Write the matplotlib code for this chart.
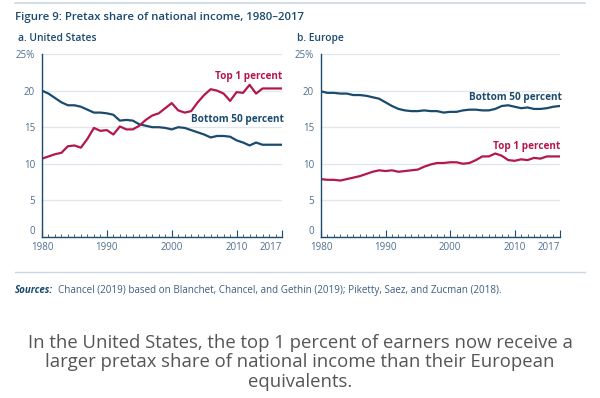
"""Pretax share of national income, US vs Europe, 1980-2017."""

import matplotlib.pyplot as plt
from matplotlib.lines import Line2D
from matplotlib.ticker import MultipleLocator

years = list(range(1980, 2018))

us_top1 = [10.7, 11.0, 11.3, 11.5, 12.4, 12.5, 12.2, 13.4, 14.9, 14.5,
           14.6, 14.0, 15.1, 14.7, 14.7, 15.2, 16.0, 16.6, 16.9, 17.6,
           18.3, 17.3, 17.0, 17.2, 18.4, 19.4, 20.2, 20.0, 19.6, 18.6,
           19.8, 19.7, 20.8, 19.6, 20.3, 20.3, 20.3, 20.3]
us_bottom50 = [20.0, 19.6, 19.0, 18.4, 18.0, 18.0, 17.8, 17.4, 17.0, 17.0,
               16.9, 16.7, 15.9, 16.0, 15.9, 15.4, 15.2, 15.0, 15.0, 14.9,
               14.7, 15.0, 14.9, 14.6, 14.3, 14.0, 13.6, 13.8, 13.8, 13.7,
               13.2, 12.9, 12.5, 12.9, 12.6, 12.6, 12.6, 12.6]
eu_top1 = [7.9, 7.8, 7.8, 7.7, 7.9, 8.1, 8.3, 8.6, 8.9, 9.1,
           9.0, 9.1, 8.9, 9.0, 9.1, 9.2, 9.6, 9.9, 10.1, 10.1,
           10.2, 10.2, 10.0, 10.1, 10.5, 11.0, 11.0, 11.4, 11.1, 10.5,
           10.4, 10.6, 10.5, 10.8, 10.7, 11.0, 11.0, 11.0]
eu_bottom50 = [19.9, 19.7, 19.7, 19.6, 19.6, 19.4, 19.4, 19.3, 19.1, 18.9,
               18.4, 17.9, 17.5, 17.3, 17.2, 17.2, 17.3, 17.2, 17.2, 17.0,
               17.1, 17.1, 17.3, 17.4, 17.4, 17.3, 17.3, 17.5, 17.9, 18.0,
               17.8, 17.6, 17.7, 17.5, 17.5, 17.6, 17.8, 17.9]

x_ticks = [1980, 1990, 2000, 2010, 2017]
y_ticks = [0, 5, 10, 15, 20, 25]
y_labels = ["0", "5", "10", "15", "20", "25%"]

NAVY = "#1a4a6e"
RED = "#b3174c"
TICK = "#4d6f8f"
GRID = "#dfe6ee"
FONT = "Open Sans"


def draw_panel(ax, top1, bottom50, top_pos, bot_pos):
    ax.plot(years, bottom50, color=NAVY, lw=1.6, solid_joinstyle="round")
    ax.plot(years, top1, color=RED, lw=1.6, solid_joinstyle="round")
    ax.set_xlim(1980, 2017)
    ax.set_ylim(0, 25)
    ax.set_yticks(y_ticks)
    ylabs = ax.set_yticklabels(y_labels, fontname=FONT, fontsize=7, color=TICK)
    ylabs[0].set_verticalalignment("bottom")
    ax.set_xticks(x_ticks)
    labels = ax.set_xticklabels([str(t) for t in x_ticks], fontname=FONT,
                                fontsize=7, color=TICK)
    labels[-1].set_horizontalalignment("right")
    ax.tick_params(axis="x", direction="in", length=5, width=0.8,
                   color=NAVY, pad=4)
    ax.tick_params(axis="y", length=0, pad=5)
    ax.xaxis.set_minor_locator(MultipleLocator(1))
    ax.tick_params(axis="x", which="minor", direction="in", length=2,
                   width=0.6, color=NAVY)
    ax.grid(axis="y", color=GRID, lw=0.9)
    ax.set_axisbelow(True)
    for side in ("top", "right"):
        ax.spines[side].set_visible(False)
    for side in ("left", "bottom"):
        ax.spines[side].set_color(NAVY)
        ax.spines[side].set_linewidth(1.0)
    ax.text(2017, top_pos, "Top 1 percent", color=RED, fontname=FONT,
            fontsize=7.2, fontweight="bold", ha="right", va="center")
    ax.text(2017.3, bot_pos, "Bottom 50 percent", color=NAVY, fontname=FONT,
            fontsize=7.2, fontweight="bold", ha="right", va="center")


def main():
    fig = plt.figure(figsize=(6.0, 3.98), dpi=100)

    ax_us = fig.add_axes([0.07, 0.405, 0.40, 0.459])
    ax_eu = fig.add_axes([0.535, 0.405, 0.398, 0.459])
    draw_panel(ax_us, us_top1, us_bottom50, 21.9, 16.1)
    draw_panel(ax_eu, eu_top1, eu_bottom50, 12.4, 19.1)

    fig.add_artist(Line2D([0.025, 0.975], [0.992, 0.992], color="#c9d6e3",
                          lw=1.2))
    fig.text(0.025, 0.957, "Figure 9: Pretax share of national income, 1980\u20132017",
             fontname=FONT, fontsize=8.2, fontweight="semibold", color=NAVY,
             va="center")
    fig.text(0.03, 0.903, "a. United States", fontname=FONT, fontsize=7.4,
             fontweight="semibold", color=NAVY, va="center")
    fig.text(0.495, 0.903, "b. Europe", fontname=FONT, fontsize=7.4,
             fontweight="semibold", color=NAVY, va="center")

    fig.add_artist(Line2D([0.025, 0.975], [0.317, 0.317], color="#c9d6e3",
                          lw=1.0))
    fig.text(0.025, 0.27, "Sources:", fontname=FONT, fontsize=7,
             fontweight="bold", style="italic", color=NAVY, va="center")
    fig.text(0.097, 0.27,
             "Chancel (2019) based on Blanchet, Chancel, and Gethin (2019); "
             "Piketty, Saez, and Zucman (2018).",
             fontname=FONT, fontsize=7.1, color="#3d5f80", va="center")

    fig.text(0.5, 0.09,
             "In the United States, the top 1 percent of earners now receive a\n"
             "larger pretax share of national income than their European\n"
             "equivalents.",
             fontname=FONT, fontsize=13.3, color="#555555", ha="center",
             va="center", linespacing=1.1)

    fig.savefig("out.png", dpi=100)


if __name__ == "__main__":
    main()
